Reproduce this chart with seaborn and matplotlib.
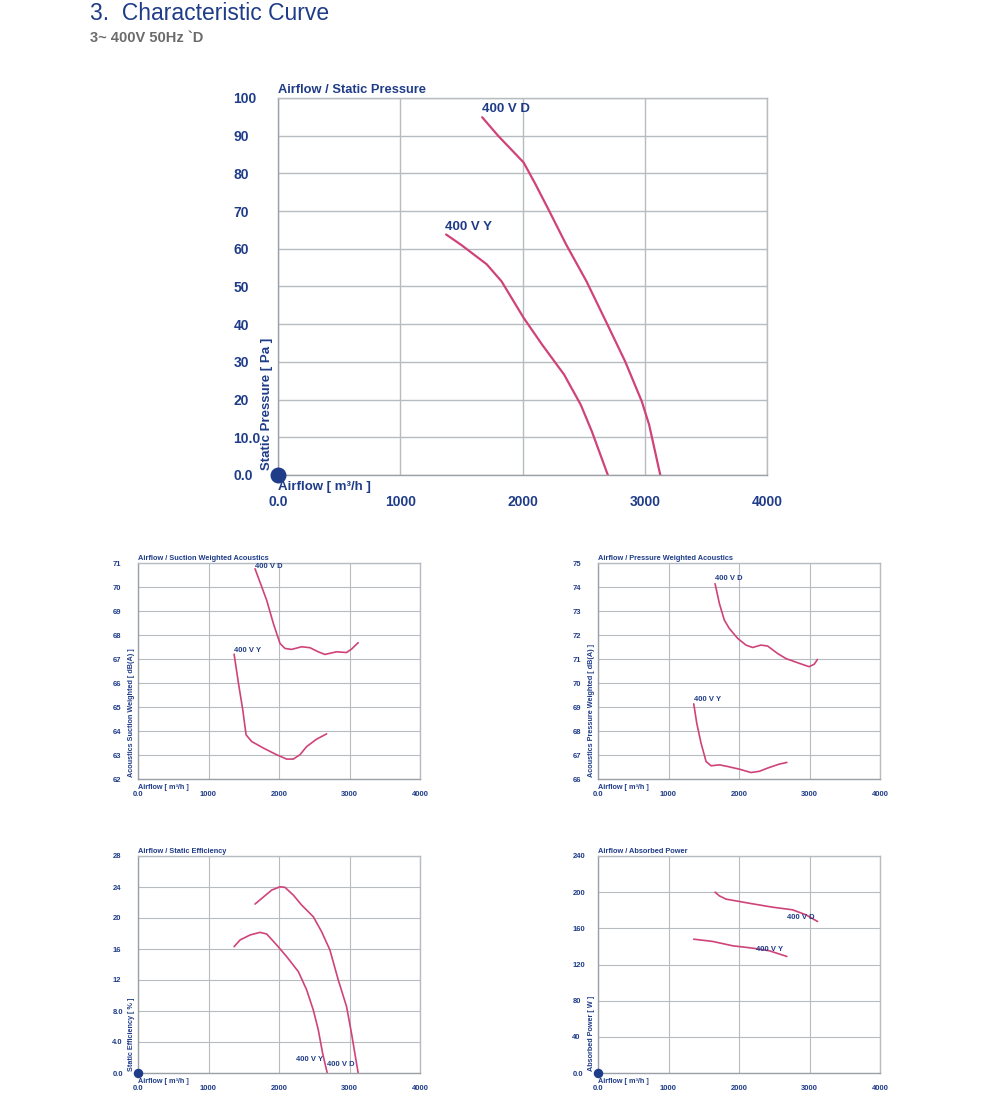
import matplotlib
matplotlib.use("Agg")
import matplotlib.pyplot as plt
import seaborn as sns

# ---- data -------------------------------------------------------------
x_ticks = [0, 1000, 2000, 3000, 4000]
x_tick_labels = ["0.0", "1000", "2000", "3000", "4000"]

# Airflow / Static Pressure
sp_d_x = [1670, 1800, 2009, 2100, 2205, 2356, 2523, 2689, 2840, 2976, 3036, 3127]
sp_d_y = [94.9, 90.0, 82.9, 77.5, 70.9, 61.2, 51.4, 40.3, 30.1, 19.5, 13.3, 0.0]
sp_y_x = [1375, 1500, 1707, 1828, 2009, 2160, 2341, 2477, 2568, 2698]
sp_y_y = [63.8, 61.0, 55.9, 51.4, 41.7, 34.6, 26.6, 18.6, 11.5, 0.0]

# Airflow / Suction Weighted Acoustics
su_d_x = [1660, 1825, 1920, 2014, 2085, 2179, 2321, 2439, 2557, 2651, 2816, 2958, 3028, 3123]
su_d_y = [70.76, 69.45, 68.48, 67.65, 67.44, 67.40, 67.51, 67.47, 67.30, 67.19, 67.30, 67.27, 67.41, 67.68]
su_y_x = [1363, 1425, 1486, 1533, 1613, 1778, 1967, 2108, 2203, 2297, 2392, 2533, 2675]
su_y_y = [67.20, 65.99, 64.88, 63.84, 63.56, 63.29, 63.01, 62.83, 62.83, 63.01, 63.35, 63.66, 63.88]

# Airflow / Pressure Weighted Acoustics
pw_d_x = [1660, 1722, 1792, 1863, 1981, 2099, 2193, 2311, 2406, 2547, 2665, 2854, 2995, 3066, 3113]
pw_d_y = [74.14, 73.31, 72.62, 72.27, 71.86, 71.58, 71.48, 71.58, 71.54, 71.23, 71.02, 70.82, 70.68, 70.78, 70.98]
pw_y_x = [1358, 1401, 1462, 1533, 1604, 1722, 1840, 2005, 2170, 2288, 2429, 2571, 2679]
pw_y_y = [69.13, 68.32, 67.49, 66.73, 66.55, 66.59, 66.52, 66.41, 66.27, 66.32, 66.48, 66.62, 66.69]

# Airflow / Static Efficiency
ef_d_x = [1660, 1778, 1896, 2014, 2085, 2203, 2321, 2486, 2604, 2722, 2840, 2958, 3028, 3075, 3123]
ef_d_y = [21.8, 22.7, 23.6, 24.03, 23.95, 22.96, 21.67, 20.17, 18.24, 15.88, 12.02, 8.58, 5.15, 2.58, 0.0]
ef_y_x = [1363, 1448, 1590, 1731, 1825, 1967, 2108, 2274, 2392, 2486, 2557, 2618, 2684]
ef_y_y = [16.3, 17.17, 17.81, 18.15, 17.94, 16.52, 15.02, 13.09, 10.73, 8.15, 5.58, 2.58, 0.0]

# Airflow / Absorbed Power
ap_d_x = [1660, 1722, 1816, 2005, 2193, 2476, 2759, 2948, 3113]
ap_d_y = [200.0, 195.9, 192.3, 189.7, 187.1, 183.4, 180.5, 175.0, 167.6]
ap_y_x = [1358, 1627, 1910, 2193, 2429, 2679]
ap_y_y = [148.0, 145.5, 140.7, 138.1, 135.2, 128.9]

# ---- styling ----------------------------------------------------------
sns.set_style("white")
plt.rcParams["font.family"] = ["Liberation Sans", "DejaVu Sans"]

NAVY = "#1f3c88"
CURVE = "#cf4379"
GRID = "#b7bcc0"

W, H = 1000, 1120
fig = plt.figure(figsize=(W / 100, H / 100), dpi=100)


def px_axes(left, top, right, bottom):
    return fig.add_axes([left / W, 1 - bottom / H, (right - left) / W, (bottom - top) / H])


def panel(ax, curves, ylim, yticks, ylabels, title, ylab, big=False, dot=True):
    fs_tick = 10 if big else 5.5
    fs_lab = 9.5 if big else 5.2
    lw = 1.6 if big else 1.2
    for cx, cy in curves:
        sns.lineplot(x=cx, y=cy, ax=ax, color=CURVE, lw=lw, sort=False,
                     estimator=None, legend=False)
    ax.set_xlim(0, 4000)
    ax.set_ylim(*ylim)
    ax.set_xticks(x_ticks)
    ax.set_xticklabels(x_tick_labels)
    ax.set_yticks(yticks)
    ax.set_yticklabels(ylabels)
    ax.grid(True, color=GRID, lw=1.0 if big else 0.8)
    for s in ax.spines.values():
        s.set_color(GRID)
        s.set_linewidth(1.0)
    ax.spines["left"].set_color("#9aa0a5")
    ax.spines["bottom"].set_color("#9aa0a5")
    ax.tick_params(axis="both", length=0, labelsize=fs_tick, labelcolor=NAVY)
    ax.tick_params(axis="y", pad=32 if big else 18.5)
    ax.tick_params(axis="x", pad=14.5 if big else 9)
    for t in ax.get_yticklabels() + ax.get_xticklabels():
        t.set_fontweight("bold")
    for t in ax.get_yticklabels():
        t.set_horizontalalignment("left")
    ax.set_xlabel("")
    ax.set_ylabel("")
    ax.annotate(title, xy=(0, 1), xycoords="axes fraction",
                xytext=(0, 1.5 if big else 0.5), textcoords="offset points",
                ha="left", va="bottom", fontsize=9.3 if big else 5.3,
                fontweight="bold", color=NAVY)
    ax.annotate("Airflow [ m³/h ]", xy=(0, 0), xycoords="axes fraction",
                xytext=(0, -8.5 if big else -6), textcoords="offset points",
                ha="left", va="center", fontsize=fs_lab, fontweight="bold", color=NAVY)
    ax.annotate(ylab, xy=(0, 0), xycoords="axes fraction",
                xytext=(-8 if big else -4.5, 3.5 if big else 1.5), textcoords="offset points",
                ha="center", va="bottom", rotation=90, fontsize=fs_lab,
                fontweight="bold", color=NAVY)
    if dot:
        ax.scatter([0], [ylim[0]], s=110 if big else 34, color=NAVY, zorder=10, clip_on=False)


def curve_label(ax, x, y, text, big=False):
    ax.text(x, y, text, fontsize=9.5 if big else 5.5, fontweight="bold",
            color=NAVY, ha="left", va="bottom" if big else "center", zorder=5)


# header
fig.text(90 / W, 1 - 14 / H, "3.  Characteristic Curve", fontsize=16.5,
         color=NAVY, ha="left", va="center")
fig.text(90 / W, 1 - 38 / H, "3~ 400V 50Hz `D", fontsize=10.5, fontweight="bold",
         color="#6b6b6b", ha="left", va="center")

# main chart
ax0 = px_axes(278, 98, 767, 475)
panel(ax0, [(sp_d_x, sp_d_y), (sp_y_x, sp_y_y)], (0, 100), list(range(0, 101, 10)),
      ["0.0", "10.0", "20", "30", "40", "50", "60", "70", "80", "90", "100"],
      "Airflow / Static Pressure", "Static Pressure [ Pa ]", big=True)
curve_label(ax0, 1665, 95.5, "400 V D", big=True)
curve_label(ax0, 1362, 64.3, "400 V Y", big=True)

# suction acoustics
ax1 = px_axes(138, 563, 420, 779)
panel(ax1, [(su_d_x, su_d_y), (su_y_x, su_y_y)], (62, 71), list(range(62, 72)),
      [str(v) for v in range(62, 72)], "Airflow / Suction Weighted Acoustics",
      "Acoustics Suction Weighted [ dB(A) ]", dot=False)
curve_label(ax1, 1655, 70.85, "400 V D")
curve_label(ax1, 1360, 67.35, "400 V Y")

# pressure acoustics
ax2 = px_axes(598, 563, 880, 779)
panel(ax2, [(pw_d_x, pw_d_y), (pw_y_x, pw_y_y)], (66, 75), list(range(66, 76)),
      [str(v) for v in range(66, 76)], "Airflow / Pressure Weighted Acoustics",
      "Acoustics Pressure Weighted [ dB(A) ]", dot=False)
curve_label(ax2, 1658, 74.35, "400 V D")
curve_label(ax2, 1355, 69.3, "400 V Y")

# static efficiency
ax3 = px_axes(138, 856, 420, 1073)
panel(ax3, [(ef_d_x, ef_d_y), (ef_y_x, ef_y_y)], (0, 28), list(range(0, 29, 4)),
      ["0.0", "4.0", "8.0", "12", "16", "20", "24", "28"],
      "Airflow / Static Efficiency", "Static Efficiency [ % ]")
curve_label(ax3, 2240, 1.8, "400 V Y")
curve_label(ax3, 2680, 1.1, "400 V D")

# absorbed power
ax4 = px_axes(598, 856, 880, 1073)
panel(ax4, [(ap_d_x, ap_d_y), (ap_y_x, ap_y_y)], (0, 240), list(range(0, 241, 40)),
      ["0.0", "40", "80", "120", "160", "200", "240"],
      "Airflow / Absorbed Power", "Absorbed Power [ W ]")
curve_label(ax4, 2675, 172.5, "400 V D")
curve_label(ax4, 2240, 136.5, "400 V Y")

fig.savefig("out.png", dpi=100)
plt.close(fig)
